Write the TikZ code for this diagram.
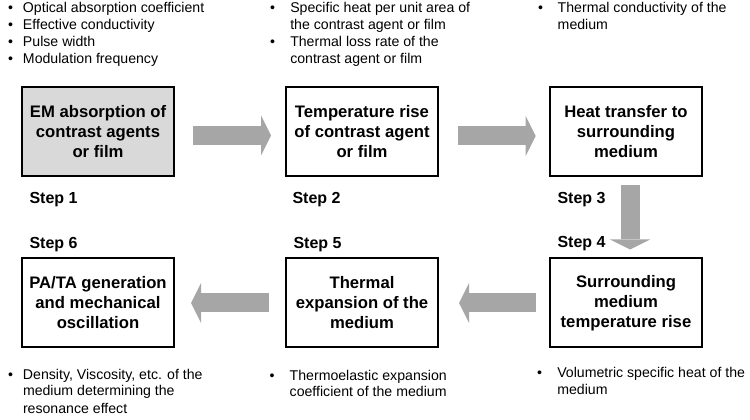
\documentclass[tikz,border=0pt]{standalone}
\usepackage{fontspec}
\setmainfont{Liberation Sans}
\usetikzlibrary{arrows.meta,calc}

\definecolor{arrowgray}{RGB}{166,166,166}
\definecolor{boxgray}{RGB}{217,217,217}

\tikzset{every picture/.style={line width=0.75pt}}
\tikzset{
  stepbox/.style={draw, line width=1.5pt, minimum width=114pt, minimum height=66.75pt,
    align=center, inner sep=0pt, font=\fontsize{12.5}{15}\selectfont\bfseries},
  steplabel/.style={anchor=base west, inner sep=0pt, font=\fontsize{12}{14}\selectfont\bfseries},
  paramlist/.style={anchor=base west, inner sep=0pt, font=\fontsize{10.6}{12.75}\selectfont},
  flowarrow/.style={draw=arrowgray, line width=14.25pt,
    -{Triangle[length=7.5pt, width=30pt, line width=0pt, fill=arrowgray]}},
}

\begin{document}
\begin{tikzpicture}[x=0.75pt,y=0.75pt,yscale=-1,xscale=1]
    \useasboundingbox (0,0) rectangle (750,420);
    % process boxes
    \node [stepbox, fill=boxgray] (absorb) at (98,131.5) {EM absorption of\\contrast agents\\or film};
    \node [stepbox] (temprise) at (362,131.5) {Temperature rise\\of contrast agent\\or film};
    \node [stepbox] (heattrans) at (626,131.5) {Heat transfer to\\surrounding\\medium};
    \node [stepbox] (medrise) at (626,303) {Surrounding\\medium\\temperature rise};
    \node [stepbox] (thermexp) at (362,303) {Thermal\\expansion of the\\medium};
    \node [stepbox] (pagen) at (98,303) {PA/TA generation\\and mechanical\\oscillation};
    % step labels
    \node [steplabel] (step1) at (29,204) {Step 1};
    \node [steplabel] (step2) at (292,204) {Step 2};
    \node [steplabel] (step3) at (557,204) {Step 3};
    \node [steplabel] (step4) at (557,248) {Step 4};
    \node [steplabel] (step5) at (293,249) {Step 5};
    \node [steplabel] (step6) at (29,249) {Step 6};
    % parameters
    \node [paramlist] (par1) at (7.5,13) {\begin{tabular}[t]{@{}p{11.25pt}@{}l@{}}
      \textbullet & Optical absorption coefficient\\
      \textbullet & Effective conductivity\\
      \textbullet & Pulse width\\
      \textbullet & Modulation frequency
    \end{tabular}};
    \node [paramlist] (par2) at (269.5,13) {\begin{tabular}[t]{@{}p{15.2pt}@{}l@{}}
      \textbullet & Specific heat per unit area of\\
      & the contrast agent or film\\
      \textbullet & Thermal loss rate of the\\
      & contrast agent or film
    \end{tabular}};
    \node [paramlist] (par3) at (537.5,13) {\begin{tabular}[t]{@{}p{14.8pt}@{}l@{}}
      \textbullet & Thermal conductivity of the\\
      & medium
    \end{tabular}};
    \node [paramlist] (par4) at (536.5,378) {\begin{tabular}[t]{@{}p{15.2pt}@{}l@{}}
      \textbullet & Volumetric specific heat of the\\
      & medium
    \end{tabular}};
    \node [paramlist] (par5) at (269.2,380) {\begin{tabular}[t]{@{}p{15pt}@{}l@{}}
      \textbullet & Thermoelastic expansion\\
      & coefficient of the medium
    \end{tabular}};
    \node [paramlist] (par6) at (7.5,379) {\begin{tabular}[t]{@{}p{11.25pt}@{}l@{}}
      \textbullet & Density, Viscosity, etc. of the\\
      & medium determining the\\
      & resonance effect
    \end{tabular}};
    % flow arrows
    \draw [flowarrow, shorten <=13.5pt, shorten >=10.5pt] ($(absorb.east)+(0,4)$) -- ($(temprise.west)+(0,4)$);
    \draw [flowarrow, shorten <=14pt, shorten >=10pt] ($(temprise.east)+(0,4.5)$) -- ($(heattrans.west)+(0,4.5)$);
    \draw [flowarrow, shorten <=6pt, shorten >=6pt] ($(heattrans.south)+(4,0)$) -- ($(medrise.north)+(4,0)$);
    \draw [flowarrow, shorten <=9.75pt, shorten >=15pt] (medrise.west) -- (thermexp.east);
    \draw [flowarrow, shorten <=12pt, shorten >=12pt] (thermexp.west) -- (pagen.east);
\end{tikzpicture}
\end{document}
